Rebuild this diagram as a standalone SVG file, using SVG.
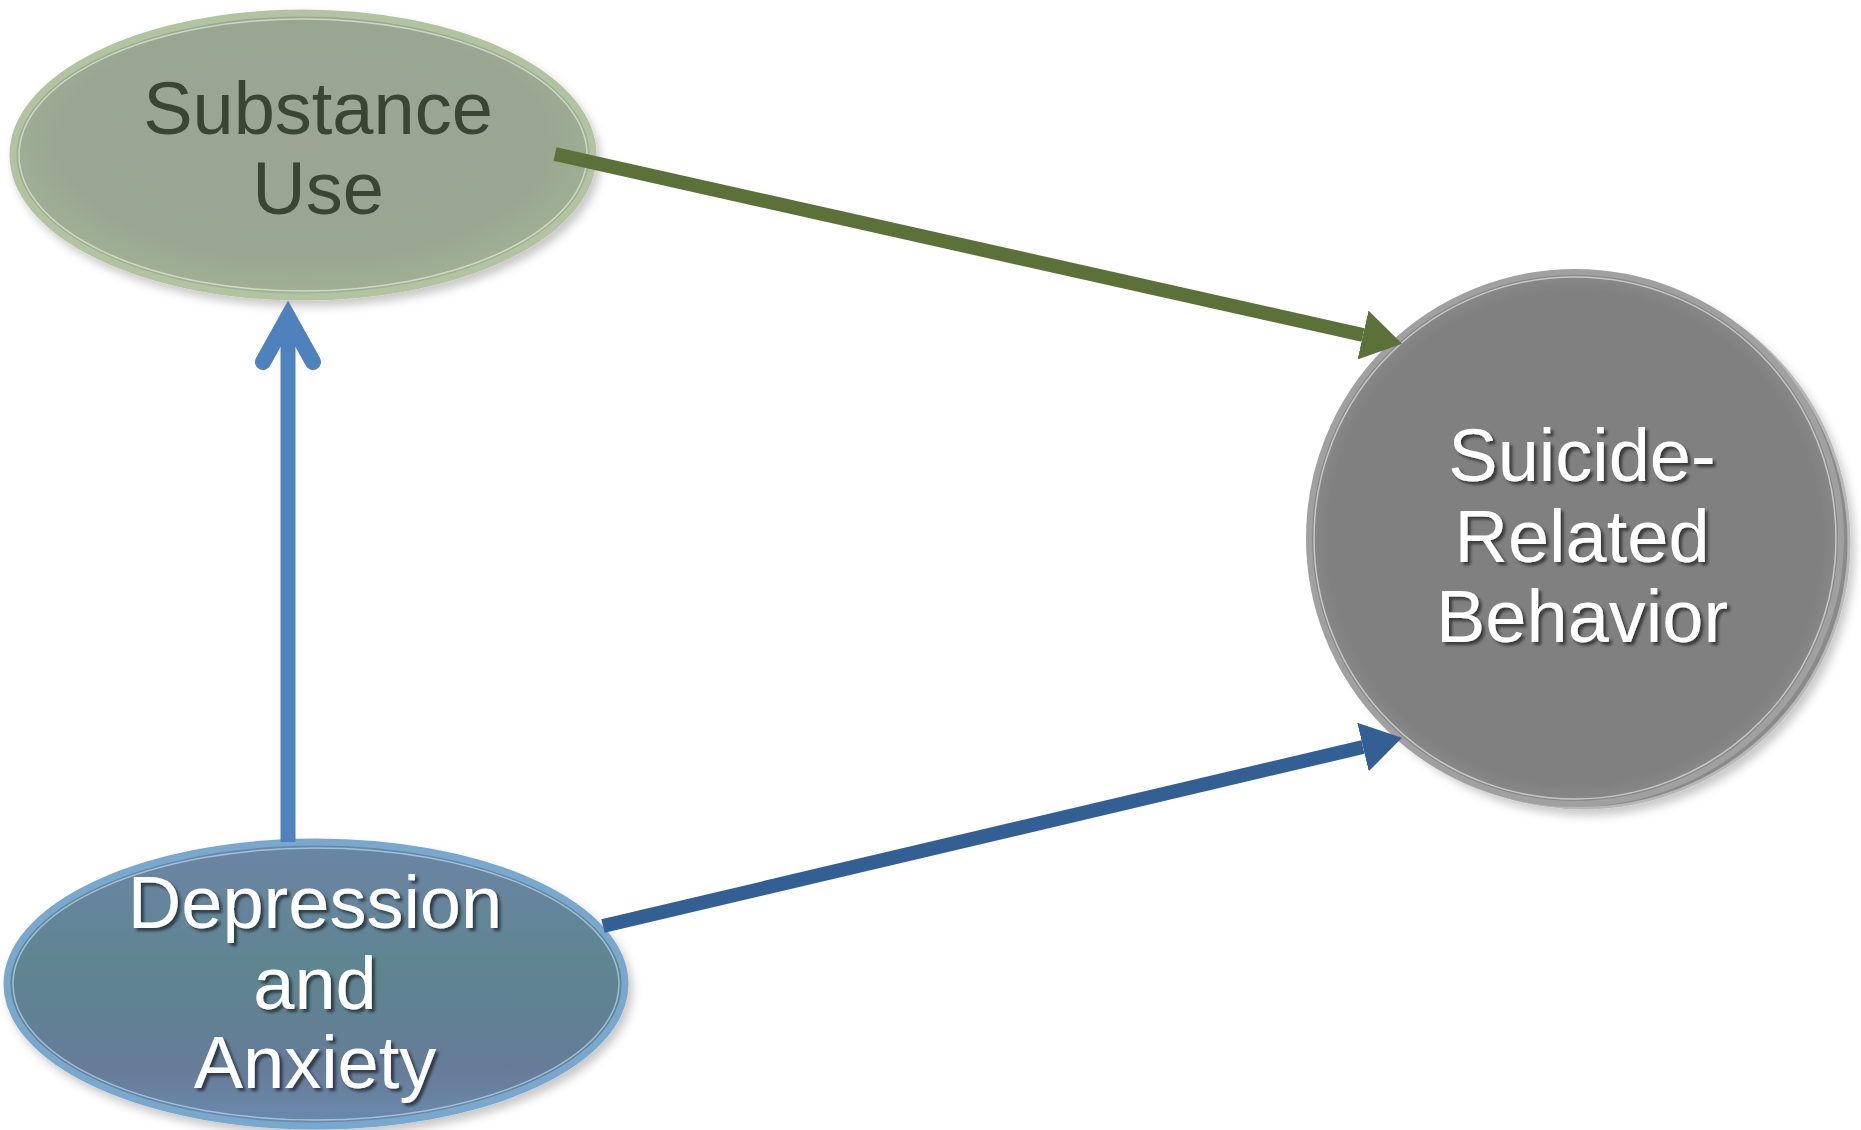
<svg xmlns="http://www.w3.org/2000/svg" width="1861" height="1130" viewBox="0 0 1861 1130">
  <defs>
    <style>
      .label { font-family: "Liberation Sans", Arial, sans-serif; font-size: 74px; text-anchor: middle; }
      .dark { fill: #3a4633; }
      .light { fill: #ffffff; filter: url(#textShadow); }
      .conn { fill: none; stroke-linecap: butt; }
    </style>
    <filter id="textShadow" x="-10%" y="-20%" width="130%" height="150%">
      <feDropShadow dx="3" dy="3" stdDeviation="1.5" flood-color="#000" flood-opacity="0.55"/>
    </filter>
    <filter id="nodeShadow" x="-10%" y="-10%" width="125%" height="130%">
      <feDropShadow dx="4" dy="6" stdDeviation="5" flood-color="#000" flood-opacity="0.22"/>
    </filter>
    <radialGradient id="greenFill" cx="50%" cy="45%" r="60%">
      <stop offset="0" stop-color="#9ca594"/>
      <stop offset="0.7" stop-color="#99a792"/>
      <stop offset="1" stop-color="#a4b598"/>
    </radialGradient>
    <linearGradient id="blueFill" x1="0" y1="0" x2="0" y2="1">
      <stop offset="0" stop-color="#6c84a6"/>
      <stop offset="0.45" stop-color="#5e8590"/>
      <stop offset="0.8" stop-color="#667c98"/>
      <stop offset="1" stop-color="#6c8aae"/>
    </linearGradient>
    <radialGradient id="grayFill" cx="50%" cy="50%" r="50%">
      <stop offset="0" stop-color="#808080"/>
      <stop offset="0.93" stop-color="#808080"/>
      <stop offset="1" stop-color="#8a8a8a"/>
    </radialGradient>
    <marker id="headGreen" markerUnits="userSpaceOnUse" markerWidth="42" markerHeight="52" refX="0" refY="25" orient="auto">
      <path d="M0,0 L40,25 L0,50 z" fill="#5b7139"/>
    </marker>
    <marker id="headBlue" markerUnits="userSpaceOnUse" markerWidth="42" markerHeight="52" refX="0" refY="25" orient="auto">
      <path d="M0,0 L40,25 L0,50 z" fill="#345f93"/>
    </marker>
  </defs>

  <rect width="1861" height="1130" fill="#ffffff"/>

  <!-- Substance Use -->
  <g id="node-substance-use">
    <ellipse cx="303" cy="155" rx="290" ry="142" fill="url(#greenFill)" stroke="#b2c3a2" stroke-width="7" filter="url(#nodeShadow)"/>
    <ellipse cx="303" cy="155" rx="284" ry="136" fill="none" stroke="#e2ebd6" stroke-width="1.5" opacity="0.7"/>
    <text class="label dark" x="318" y="134">Substance</text>
    <text class="label dark" x="318" y="214">Use</text>
  </g>

  <!-- Suicide-Related Behavior -->
  <g id="node-suicide-related-behavior">
    <circle cx="1583" cy="542" r="266" fill="#8a8a8a" stroke="#b8b8b8" stroke-width="3" filter="url(#nodeShadow)"/>
    <circle cx="1575" cy="538" r="266" fill="url(#grayFill)" stroke="#a0a0a0" stroke-width="6"/>
    <circle cx="1575" cy="538" r="261" fill="none" stroke="#e2e2e2" stroke-width="1.5" opacity="0.7"/>
    <text class="label light" x="1582" y="481">Suicide-</text>
    <text class="label light" x="1582" y="562">Related</text>
    <text class="label light" x="1582" y="642">Behavior</text>
  </g>

  <!-- Depression and Anxiety -->
  <g id="node-depression-anxiety">
    <ellipse cx="316" cy="984" rx="309" ry="142" fill="url(#blueFill)" stroke="#7aa8cc" stroke-width="7" filter="url(#nodeShadow)"/>
    <ellipse cx="316" cy="984" rx="303" ry="136" fill="none" stroke="#b8dbf2" stroke-width="1.5" opacity="0.7"/>
    <text class="label light" x="315" y="928">Depression</text>
    <text class="label light" x="315" y="1009">and</text>
    <text class="label light" x="315" y="1088">Anxiety</text>
  </g>

  <!-- Connectors -->
  <g id="connectors">
    <line class="conn" x1="555" y1="154" x2="1363" y2="335" stroke="#5b7139" stroke-width="14" marker-end="url(#headGreen)"/>
    <line class="conn" x1="603" y1="926" x2="1363" y2="747" stroke="#345f93" stroke-width="14" marker-end="url(#headBlue)"/>
    <line class="conn" x1="288" y1="842" x2="288" y2="318" stroke="#4f81bd" stroke-width="15"/>
    <path d="M263,362 L288,317 L313,362" fill="none" stroke="#4f81bd" stroke-width="16" stroke-linecap="round" stroke-linejoin="miter" stroke-miterlimit="6"/>
  </g>
</svg>
